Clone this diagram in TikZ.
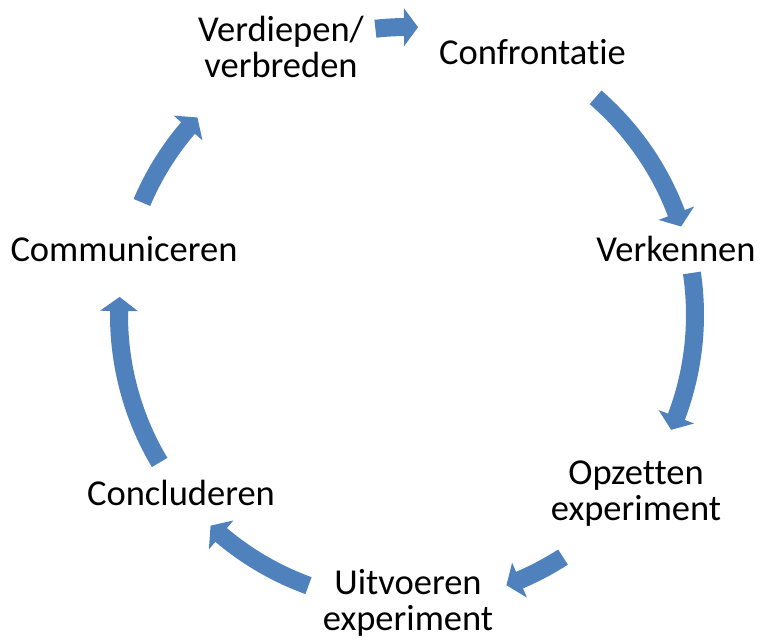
\documentclass[tikz,border=0pt]{standalone}
\usepackage{fontspec}
\setmainfont{Carlito}[Ligatures=NoCommon]
\definecolor{arrowblue}{HTML}{4F81BD}
\newcommand\cyclearrow[2]{%
  \fill[arrowblue] (#1:297) arc[start angle=#1, end angle=#2+2.8, radius=297]
    -- (#2+2.8:307) -- (#2:288) -- (#2+2.8:269) -- (#2+2.8:279)
    arc[start angle=#2+2.8, end angle=#1, radius=279] -- cycle;}
\begin{document}
\begin{tikzpicture}[x=1pt,y=1pt,
  lbl/.style={inner sep=0pt, anchor=base, align=center, font=\fontsize{36.5}{36}\selectfont}]
\useasboundingbox (0,0) rectangle (774,641);
\node[lbl] (verdiepen) at (281,563) {Verdiepen/\\verbreden};
\node[lbl] (confrontatie) at (532.5,576.7) {Confrontatie};
\node[lbl] (verkennen) at (676,379) {Verkennen};
\node[lbl] (opzetten) at (636,121) {Opzetten\\experiment};
\node[lbl] (uitvoeren) at (408,11) {Uitvoeren\\experiment};
\node[lbl] (concluderen) at (181,136) {Concluderen};
\node[lbl] (communiceren) at (124,379.3) {Communiceren};
\begin{scope}[shift={(407,326)}]
\cyclearrow{49.1}{17.9}
\cyclearrow{8.4}{-23.5}
\cyclearrow{-57.2}{-69.8}
\cyclearrow{-110}{-133}
\cyclearrow{210.8}{176.4}
\cyclearrow{157}{136.7}
\cyclearrow{96.3}{87.8}
\end{scope}
\end{tikzpicture}
\end{document}
